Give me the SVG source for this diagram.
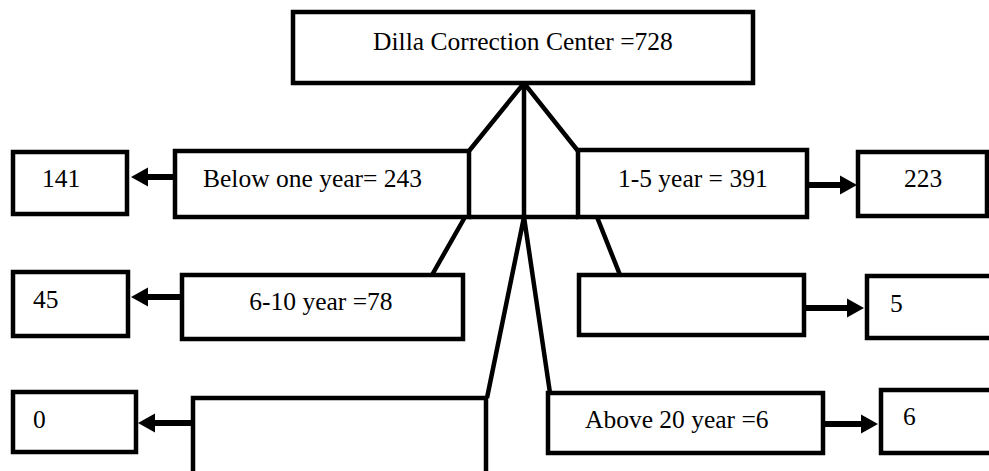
<svg xmlns="http://www.w3.org/2000/svg" width="989" height="471" viewBox="0 0 989 471">
<style>
.box{fill:#fff;stroke:#000;stroke-width:4.5}
.ln{fill:none;stroke:#000;stroke-width:4.5;stroke-linejoin:miter}
.ar{fill:none;stroke:#000;stroke-width:6}
text{font-family:"Liberation Serif","Times New Roman",serif;font-size:25.5px;fill:#000}
</style>
<defs>
<marker id="ah" markerUnits="userSpaceOnUse" markerWidth="18" markerHeight="20" refX="3" refY="10" orient="auto">
<path d="M0,0.5 L17,10 L0,19.5 z" fill="#000"/>
</marker>
</defs>
<rect width="989" height="471" fill="#fff"/>
<g id="connectors">
<path class="ln" d="M469,151 L524,83 L578,151 M524,83 L524,217 M469,217 L578,217"/>
<path class="ln" d="M465,217 L432,275 M597,217 L620,275 M524,217 L487,398 M524,217 L550,393"/>
<line class="ar" x1="175" y1="177" x2="145" y2="177" marker-end="url(#ah)"/>
<line class="ar" x1="182" y1="297" x2="145" y2="297" marker-end="url(#ah)"/>
<line class="ar" x1="193" y1="423" x2="152" y2="423" marker-end="url(#ah)"/>
<line class="ar" x1="807" y1="185" x2="843" y2="185" marker-end="url(#ah)"/>
<line class="ar" x1="804" y1="308" x2="850" y2="308" marker-end="url(#ah)"/>
<line class="ar" x1="823" y1="424" x2="864" y2="424" marker-end="url(#ah)"/>
</g>
<g id="root"><rect class="box" x="293" y="12" width="460" height="71"/><text x="523" y="50" text-anchor="middle">Dilla Correction Center =728</text></g>
<g id="below"><rect class="box" x="175" y="151" width="294" height="66"/><text x="203" y="187">Below one year= 243</text></g>
<g id="n141"><rect class="box" x="13" y="152" width="114" height="62"/><text x="42" y="187">141</text></g>
<g id="y1-5"><rect class="box" x="578" y="150" width="229" height="67"/><text x="618" y="187">1-5 year = 391</text></g>
<g id="n223"><rect class="box" x="858" y="152" width="129" height="64"/><text x="923" y="187" text-anchor="middle">223</text></g>
<g id="y6-10"><rect class="box" x="182" y="275" width="281" height="64"/><text x="321" y="310" text-anchor="middle">6-10 year =78</text></g>
<g id="n45"><rect class="box" x="13" y="272" width="115" height="64"/><text x="33" y="308">45</text></g>
<g id="midright"><rect class="box" x="579" y="275" width="225" height="60"/></g>
<g id="n5"><rect class="box" x="867" y="276" width="140" height="62"/><text x="890" y="312">5</text></g>
<g id="n0"><rect class="box" x="13" y="392" width="123" height="60"/><text x="33" y="428">0</text></g>
<g id="bottomleft"><rect class="box" x="193" y="398" width="293" height="85"/></g>
<g id="above20"><rect class="box" x="548" y="393" width="275" height="60"/><text x="585" y="428">Above 20 year =6</text></g>
<g id="n6"><rect class="box" x="881" y="390" width="130" height="63"/><text x="903" y="425">6</text></g>
</svg>
